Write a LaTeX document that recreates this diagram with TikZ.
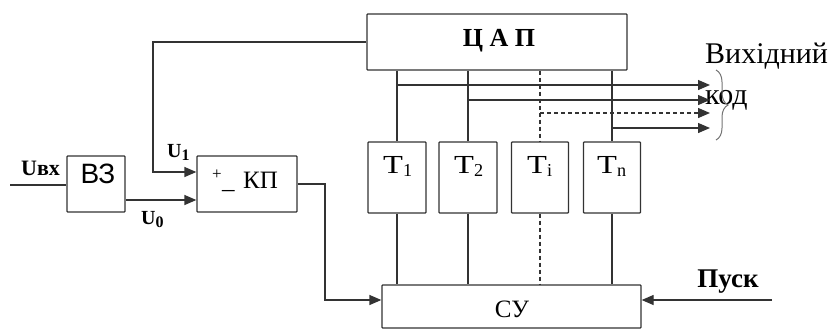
\documentclass[tikz,border=0pt]{standalone}
\usepackage{fontspec}
\setmainfont{Liberation Serif}
\newfontfamily\sansf{Liberation Sans}
\usetikzlibrary{arrows.meta,decorations.pathreplacing}
\newcommand{\wideT}{\scalebox{1.25}[1]{T}}
\begin{document}
\begin{tikzpicture}[x=1pt,y=-1pt,
  blk/.style={draw=black!80, line width=1.3pt, rounded corners=0.8pt, inner sep=0pt},
  ln/.style={draw=black!80, line width=1.3pt},
  dln/.style={ln, dash pattern=on 4pt off 3pt},
  arr/.style={ln, -{Triangle[length=12pt,width=10pt]}},
  lbl/.style={inner sep=0pt, text=black},
  fs/.style={font=\fontsize{#1}{#1}\selectfont},
  fb/.style={font=\fontsize{#1}{#1}\selectfont\bfseries},
]
\useasboundingbox (0,0) rectangle (834,330);
% blocks
\node[blk, minimum width=260, minimum height=56] (dac) at (497,42) {};
\node[blk, minimum width=58, minimum height=56] (vz) at (96,184) {};
\node[blk, minimum width=100, minimum height=56] (kp) at (247,184) {};
\node[blk, minimum width=58, minimum height=71] (t1) at (397,177.5) {};
\node[blk, minimum width=58, minimum height=71] (t2) at (468,177.5) {};
\node[blk, minimum width=57, minimum height=71] (ti) at (540,177.5) {};
\node[blk, minimum width=57, minimum height=71] (tn) at (612,177.5) {};
\node[blk, minimum width=259, minimum height=43] (su) at (511.5,306.5) {};
% texts
\node[lbl, fb=26, anchor=base] (dact) at (499,46) {Ц А П};
\node[lbl, font=\sansf\fontsize{28}{28}\selectfont, anchor=base] (vzt) at (98,183) {ВЗ};
\node[lbl, fs=17, anchor=center] (plus) at (217,175) {+};
\node[lbl, fs=25, anchor=base west] (unds) at (222,188) {\_};
\node[lbl, fs=25, anchor=base west] (kpt) at (243,188) {КП};
\node[lbl, fs=26, anchor=base west] (t1t) at (383,173) {\wideT\textsubscript{1}};
\node[lbl, fs=26, anchor=base west] (t2t) at (454,173) {\wideT\textsubscript{2}};
\node[lbl, fs=26, anchor=base west] (tit) at (527,173) {\wideT\textsubscript{i}};
\node[lbl, fs=26, anchor=base west] (tnt) at (597,173) {\wideT\textsubscript{n}};
\node[lbl, fs=25, anchor=base] (sut) at (512,317) {СУ};
\node[lbl, fb=22, anchor=base west] (uin) at (21,175) {Uвх};
\node[lbl, fb=20, anchor=base west] (u1) at (167,157) {U\raisebox{-3pt}{\fontsize{16}{16}\selectfont 1}};
\node[lbl, fb=20, anchor=base west] (u0) at (141,224) {U\raisebox{-3pt}{\fontsize{16}{16}\selectfont 0}};
\node[lbl, fb=27, anchor=base] (pusk) at (728,287) {Пуск};
\node[lbl, fs=30, anchor=base west] (out1) at (705,63) {Вихідний};
\node[lbl, fs=30, anchor=base west] (out2) at (705,104) {код};
% coordinates
\coordinate (fbx) at (153,42);
\coordinate (u1y) at (0,172);
\coordinate (u0y) at (0,200);
\coordinate (in) at (10,185);
\coordinate (kpo) at (325,184);
\coordinate (suy) at (0,300);
\coordinate (start) at (772,300);
\coordinate (o1) at (710,85);
\coordinate (o2) at (710,100);
\coordinate (oi) at (710,113);
\coordinate (on) at (710,128);
% connectors
\draw[ln] (in) -- (vz.west |- in);
\draw[arr] (vz.east |- u0y) -- (kp.west |- u0y);
\draw[arr] (dac.west) -- (fbx) |- (kp.west |- u1y);
\draw[arr] (kp.east) -- (kpo) |- (su.west |- suy);
\draw[arr] (start) -- (su.east |- start);
\draw[ln] (dac.south -| t1) -- (t1.north);
\draw[ln] (dac.south -| t2) -- (t2.north);
\draw[dln] (dac.south -| ti) -- (ti.north);
\draw[ln] (dac.south -| tn) -- (tn.north);
\draw[ln] (t1.south) -- (su.north -| t1);
\draw[ln] (t2.south) -- (su.north -| t2);
\draw[dln] (ti.south) -- (su.north -| ti);
\draw[ln] (tn.south) -- (su.north -| tn);
\draw[arr] (t1.north |- o1) -- (o1);
\draw[arr] (t2.north |- o2) -- (o2);
\draw[dln, -{Triangle[length=12pt,width=10pt]}] (ti.north |- oi) -- (oi);
\draw[arr] (tn.north |- on) -- (on);
\draw[decorate, decoration={brace, amplitude=12pt}, draw=black!55, line width=1pt] (716,70) -- (716,140);
\end{tikzpicture}
\end{document}
